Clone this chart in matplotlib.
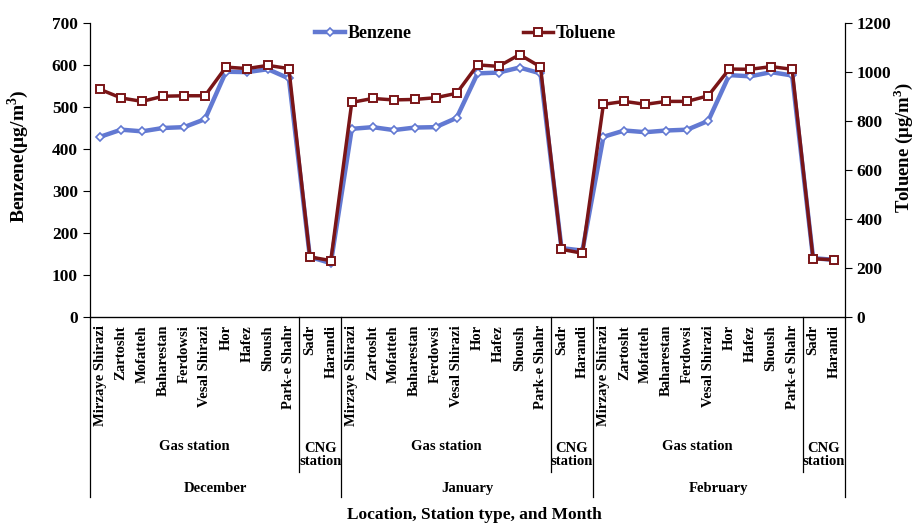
import matplotlib.pyplot as plt
from matplotlib.lines import Line2D

plt.rcParams['font.family'] = ['Liberation Serif', 'DejaVu Serif']
plt.rcParams['font.weight'] = 'bold'
plt.rcParams['mathtext.fontset'] = 'custom'
plt.rcParams['mathtext.rm'] = 'Liberation Serif:bold'

stations = ['Mirzaye Shirazi', 'Zartosht', 'Mofatteh', 'Baharestan', 'Ferdowsi',
            'Vesal Shirazi', 'Hor', 'Hafez', 'Shoush', 'Park-e Shahr', 'Sadr', 'Harandi']
months = ['December', 'January', 'February']
n_gas = 10

benzene_dec = [429, 446, 442, 450, 452, 471, 584, 583, 590, 568, 143, 128]
benzene_jan = [448, 452, 445, 451, 452, 474, 580, 582, 594, 580, 164, 158]
benzene_feb = [429, 444, 440, 444, 446, 467, 576, 573, 583, 575, 140, 136]

toluene_dec = [929, 894, 880, 901, 903, 903, 1020, 1014, 1027, 1014, 245, 230]
toluene_jan = [876, 892, 886, 888, 895, 913, 1029, 1023, 1071, 1021, 276, 260]
toluene_feb = [868, 880, 868, 880, 880, 903, 1012, 1011, 1022, 1011, 238, 233]

benzene = benzene_dec + benzene_jan + benzene_feb
toluene = toluene_dec + toluene_jan + toluene_feb
labels = stations * len(months)
x = list(range(len(labels)))

BLUE = '#6279d2'
RED = '#7a1517'

fig = plt.figure(figsize=(9.15, 5.23), dpi=100)
ax = fig.add_axes([0.098, 0.394, 0.825, 0.562])
ax2 = ax.twinx()

ax.plot(x, benzene, color=BLUE, lw=3.2, marker='D', ms=4.5, mfc='white',
        mec=BLUE, mew=1.2, label='Benzene')
ax2.plot(x, toluene, color=RED, lw=2.5, marker='s', ms=5.5, mfc='white',
         mec=RED, mew=1.4, label='Toluene')

ax.set_xlim(-0.5, len(labels) - 0.5)
ax.set_ylim(0, 700)
ax2.set_ylim(0, 1200)
ax.set_yticks(range(0, 701, 100))
ax2.set_yticks(range(0, 1201, 200))

for a in (ax, ax2):
    a.spines['top'].set_visible(False)
    a.tick_params(axis='y', labelsize=12.5, direction='out', length=5, width=0.8)
    for lab in a.get_yticklabels():
        lab.set_fontweight('bold')
ax2.spines['left'].set_visible(False)
ax.spines['right'].set_visible(False)
for s in ('left', 'bottom'):
    ax.spines[s].set_linewidth(0.9)
ax2.spines['right'].set_linewidth(0.9)

ax.set_xticks([])
ax.set_ylabel('Benzene(μg/m$^3$)', fontsize=14, fontweight='bold', va='center')
ax2.set_ylabel('Toluene (μg/m$^3$)', fontsize=13.5, fontweight='bold', va='center')
ax.yaxis.set_label_coords(-0.095, 0.548)
ax2.yaxis.set_label_coords(1.078, 0.575)

# multi-level category axis below the plot
trans = ax.get_xaxis_transform()
ypx = lambda px: -(px - 317) / 294.0   # pixel row -> axes fraction

for i, name in enumerate(labels):
    ax.text(i, ypx(325), name, rotation=90, ha='center', va='top',
            fontsize=10.5, fontweight='bold', transform=trans)

def vline(xpos, bottom_px):
    ax.add_line(Line2D([xpos, xpos], [0, ypx(bottom_px)], color='black',
                       lw=0.9, transform=trans, clip_on=False))

for m, month in enumerate(months):
    start = m * len(stations)
    vline(start - 0.5, 497)
    vline(start + n_gas - 0.5, 472)
    ax.text(start + (n_gas - 1) / 2, ypx(447), 'Gas station', ha='center',
            va='center', fontsize=10.5, fontweight='bold', transform=trans)
    ax.text(start + n_gas + 0.5, ypx(455), 'CNG\nstation', ha='center',
            va='center', fontsize=10.5, fontweight='bold', linespacing=1.0,
            transform=trans)
    ax.text(start + (len(stations) - 1) / 2, ypx(489), month, ha='center',
            va='center', fontsize=10.5, fontweight='bold', transform=trans)
vline(len(labels) - 0.5, 497)

fig.text(0.518, 1 - 515 / 523, 'Location, Station type, and Month', ha='center',
         va='center', fontsize=12.5, fontweight='bold')

h1, l1 = ax.get_legend_handles_labels()
h2, l2 = ax2.get_legend_handles_labels()
ax2.legend(h1 + h2, l1 + l2, loc='center', bbox_to_anchor=(0.498, 0.963),
           ncol=2, frameon=False, handlelength=1.65, handletextpad=0.15,
           columnspacing=6.2, prop={'size': 13, 'weight': 'bold'})

fig.savefig('out.png', dpi=100)
